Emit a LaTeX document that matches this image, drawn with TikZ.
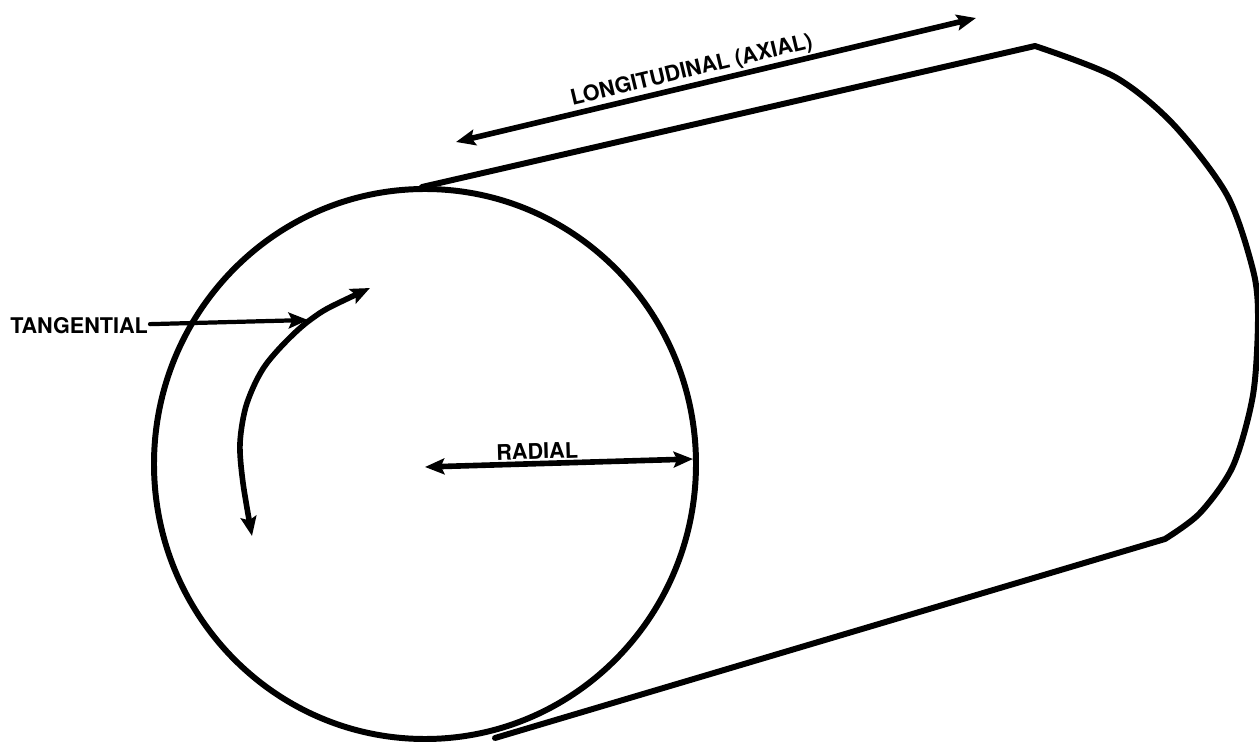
\documentclass[tikz,border=0pt]{standalone}
\usepackage{fontspec}
\setmainfont{TeX Gyre Heros}
\usetikzlibrary{arrows.meta}
\begin{document}
\begin{tikzpicture}[line join=round,line cap=round,>={Stealth[length=11pt,width=9pt,inset=2pt]},x=0.02cm,y=-0.02cm,font=\bfseries\fontsize{12.3}{14}\selectfont]
	\tikzset{every node/.style={inner sep=1pt},
		outline/.style={line width=3.4pt},
		arrowline/.style={line width=3.2pt},
		pointer/.style={line width=2.4pt}}
	\useasboundingbox (0,0) rectangle (1259,743);
	\foreach \x/\y/\n in {425/464/O,422/187/T,495/738/B,1035/46/T1,1165/539/B1,456/142/L1,976/18/L2,425/467/R1,693/459/R2,308/320/Q,370/288/C1,252/536/C2} \coordinate (\n) at (\x,\y);
	% front face
	\draw[outline] (O) ellipse [x radius=271, y radius=275];
	% sides and back edge
	\draw[outline] (T) -- plot[smooth] coordinates {(T1) (1115,77) (1173,124) (1227,195) (1253,270) (1258,318) (1253,395) (1233,466) (1200,513) (B1)} -- (B);
	% directions
	\draw[<->,arrowline] (L1) -- node[pos=0.46,above,sloped] {LONGITUDINAL (AXIAL)} (L2);
	\draw[<->,arrowline] (R1) -- node[pos=0.42,above,sloped] {RADIAL} (R2);
	\draw[<->,arrowline] plot[smooth] coordinates {(C1) (310,320) (267,363) (247,403) (240,443) (243,483) (C2)};
	\node[anchor=east] (tan) at (150,326) {TANGENTIAL};
	\draw[->,pointer] (tan) -- (Q);
\end{tikzpicture}
\end{document}
